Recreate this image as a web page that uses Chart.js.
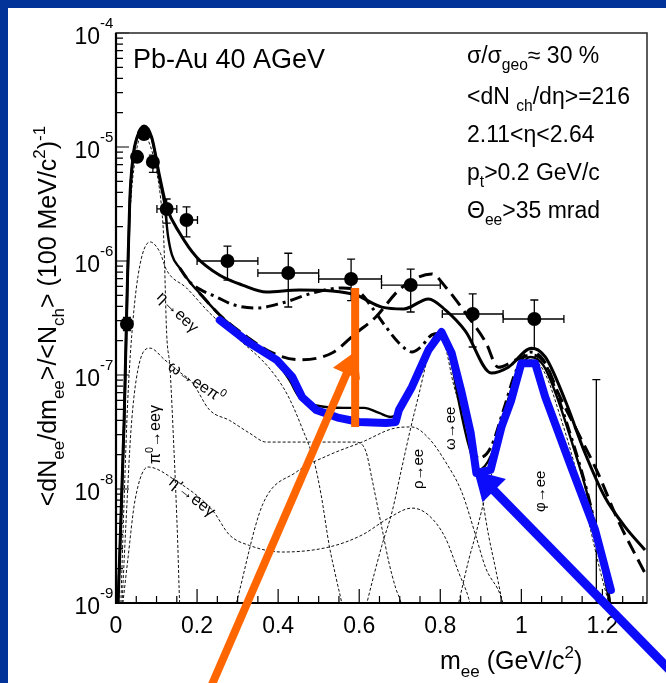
<!DOCTYPE html>
<html>
<head>
<meta charset="utf-8">
<script src="https://cdn.jsdelivr.net/npm/chart.js@4/dist/chart.umd.min.js"></script>
<style>
  html, body { margin: 0; padding: 0; background: #fff; }
</style>
</head>
<body>
<canvas id="spectre" width="666" height="683"></canvas>
<script>
// Points mesurés (masse en GeV/c2, rendement) et barres d'erreur
const massPts  = [0.027, 0.052, 0.069, 0.091, 0.125, 0.174, 0.275, 0.425, 0.58, 0.727, 0.88, 1.032, 1.185];
const yieldPts = [2.8e-7, 8.2e-6, 1.3e-5, 7.4e-6, 2.86e-6, 2.29e-6, 1.0e-6, 7.85e-7, 6.95e-7, 6.15e-7, 3.43e-7, 3.1e-7, 3e-10];
const xLow  = [0.027, 0.052, 0.069, 0.091, 0.101, 0.162, 0.20, 0.35, 0.50, 0.655, 0.805, 0.955, 1.185];
const xHigh = [0.027, 0.052, 0.069, 0.091, 0.150, 0.201, 0.35, 0.50, 0.655, 0.80, 0.955, 1.105, 1.185];
const yLow  = [2.45e-7, 7.5e-6, 1.2e-5, 6.0e-6, 2.15e-6, 1.63e-6, 6.8e-7, 3.95e-7, 4.5e-7, 3.57e-7, 1.76e-7, 1.69e-7, 1e-10];
const yHigh = [3.2e-7, 9.0e-6, 1.4e-5, 8.5e-6, 3.5e-6, 2.98e-6, 1.35e-6, 1.17e-6, 1.04e-6, 8.5e-7, 5.14e-7, 4.55e-7, 9.1e-8];

// Courbe pleine du haut
const upperX = [0.005,0.020,0.027,0.034,0.042,0.052,0.069,0.088,0.108,0.125,0.157,0.199,0.256,0.312,0.371,0.452,0.533,0.592,0.656,0.710,0.771,0.813,0.862,0.926,0.968,1.025,1.059,1.108,1.157,1.206,1.256,1.305];
const upperY = [1e-9,4.0e-8,4.5e-7,3.4e-6,8.2e-6,1.22e-5,1.53e-5,1.22e-5,5.45e-6,2.98e-6,1.76e-6,1.08e-6,7.5e-7,6.15e-7,5.35e-7,5.57e-7,5.46e-7,5.03e-7,3.94e-7,3.8e-7,4.65e-7,3.71e-7,2.43e-7,1.04e-7,1.17e-7,1.72e-7,1.44e-7,6.0e-8,2.07e-8,8.5e-9,4.65e-9,2.92e-9];

// Courbe pleine du bas (cocktail)
const lowerX = [0.005,0.020,0.027,0.034,0.042,0.052,0.069,0.088,0.108,0.120,0.128,0.138,0.157,0.182,0.206,0.256,0.329,0.391,0.428,0.452,0.501,0.563,0.612,0.649,0.678,0.703,0.735,0.767,0.796,0.821,0.845,0.870,0.894,0.926,0.956,0.988,1.022,1.054,1.086,1.123,1.160,1.189,1.209,1.219,1.226];
const lowerY = [1e-9,3.6e-8,4.2e-7,3.2e-6,8.0e-6,1.2e-5,1.5e-5,1.2e-5,5.1e-6,3.1e-6,1.69e-6,1.13e-6,8.7e-7,6.55e-7,5.23e-7,3.36e-7,2.03e-7,1.36e-7,9.0e-8,6.4e-8,5.35e-8,5.15e-8,5.15e-8,4.65e-8,4.29e-8,4.93e-8,8.2e-8,1.59e-7,2.33e-7,1.66e-7,6.0e-8,2.43e-8,1.47e-8,1.99e-8,4.46e-8,1.0e-7,1.44e-7,1.22e-7,6.7e-8,2.69e-8,9.8e-9,3.57e-9,1.44e-9,1e-9,7e-10];

// Tirets-points
const ddX = [0.157,0.182,0.206,0.248,0.292,0.346,0.410,0.494,0.558,0.600,0.631,0.666,0.698,0.730,0.752,0.779,0.801,0.826,0.850,0.875,0.894,0.924,0.956,0.988,1.022,1.054,1.086,1.123,1.160,1.189,1.214,1.222];
const ddY = [8.7e-7,6.55e-7,5.67e-7,4.83e-7,4.11e-7,3.87e-7,4.29e-7,5.35e-7,5.8e-7,5.35e-7,3.94e-7,2.64e-7,1.91e-7,1.59e-7,1.76e-7,2.25e-7,2.33e-7,1.59e-7,6.0e-8,2.69e-8,1.87e-8,2.29e-8,4.93e-8,1.11e-7,1.59e-7,1.36e-7,7.1e-8,2.86e-8,1.02e-8,3.7e-9,1.3e-9,7e-10];

// Tirets longs
const ldX = [0.206,0.256,0.324,0.386,0.452,0.533,0.592,0.641,0.698,0.747,0.779,0.813,0.862,0.912,0.943,0.988,1.025,1.059,1.091,1.140,1.189,1.238,1.305];
const ldY = [5.23e-7,3.36e-7,2.15e-7,1.56e-7,1.36e-7,1.56e-7,2.33e-7,3.23e-7,5.57e-7,7.24e-7,7.7e-7,5.92e-7,3.5e-7,1.94e-7,1.17e-7,1.36e-7,1.5e-7,1.27e-7,6.95e-8,3.1e-8,1.38e-8,5.35e-9,1.83e-9];

// Composantes du cocktail (pointillés fins)
const pi0X = [0.007,0.015,0.025,0.034,0.047,0.064,0.079,0.101,0.113,0.118,0.125,0.133,0.143,0.152,0.157,0.162];
const pi0Y = [1e-9,1.2e-8,2.5e-7,2.3e-6,7.7e-6,1.27e-5,1.15e-5,5.9e-6,2.8e-6,1.5e-6,2.3e-7,1.17e-7,2.2e-8,3.6e-9,1e-9,6e-10];
const etaX = [0.012,0.020,0.029,0.042,0.059,0.084,0.108,0.125,0.174,0.231,0.305,0.378,0.423,0.459,0.489,0.506,0.526,0.543,0.558,0.565];
const etaY = [1e-9,8e-9,6.0e-8,3.04e-7,9.2e-7,1.47e-6,1.2e-6,8.3e-7,5.8e-7,3.5e-7,2.03e-7,1.15e-7,6.7e-8,3.43e-8,1.73e-8,8.9e-9,3.2e-9,1.66e-9,9.6e-10,7e-10];
const omDalX = [0.015,0.025,0.037,0.054,0.084,0.120,0.157,0.187,0.231,0.280,0.329,0.371,0.592,0.617,0.631,0.656,0.673,0.690,0.703,0.711];
const omDalY = [1e-9,5.35e-9,3.3e-8,1.11e-7,1.72e-7,1.36e-7,1.06e-7,8.7e-8,4.93e-8,4.0e-8,3.1e-8,2.58e-8,2.58e-8,2.11e-8,1.25e-8,4.55e-9,2.29e-9,1.35e-9,1e-9,7e-10];
const etaPX = [0.017,0.029,0.047,0.079,0.145,0.238,0.280,0.329,0.410,0.526,0.607,0.673,0.730,0.771,0.813,0.845,0.870,0.877];
const etaPY = [1e-9,2.38e-9,8.0e-9,1.56e-8,1.2e-8,6.5e-9,3.95e-9,3.2e-9,2.8e-9,3.1e-9,3.95e-9,5.57e-9,6.8e-9,5.9e-9,3.7e-9,1.87e-9,1.1e-9,8.6e-10];
const rhoX = [0.297,0.361,0.445,0.526,0.607,0.690,0.730,0.771,0.813,0.853,0.887,0.912,0.951,0.958];
const rhoY = [1e-9,7.2e-9,1.41e-8,1.99e-8,2.58e-8,3.43e-8,3.5e-8,2.8e-8,1.73e-8,9.4e-9,3.95e-9,2.03e-9,1.1e-9,8.6e-10];
const omX = [0.612,0.619,0.656,0.681,0.705,0.727,0.747,0.771,0.791,0.811,0.833,0.852,0.870,0.887,0.902,0.919,0.936,0.951,0.958];
const omY = [7.8e-10,1e-9,3.2e-9,6.3e-9,1.53e-8,3.43e-8,6.7e-8,1.5e-7,2.2e-7,1.83e-7,8.2e-8,4.93e-8,3.3e-8,1.73e-8,8.9e-9,3.95e-9,2.03e-9,1.1e-9,8.3e-10];
const phiX = [0.840,0.848,0.870,0.887,0.912,0.936,0.961,0.988,1.017,1.042,1.066,1.091,1.128,1.165,1.194,1.214,1.224];
const phiY = [8.3e-10,1.1e-9,2.38e-9,3.95e-9,8.9e-9,1.8e-8,4.2e-8,9.0e-8,1.36e-7,1.27e-7,9.0e-8,4.93e-8,1.8e-8,5.35e-9,1.95e-9,1.06e-9,8.3e-10];

// Annotations (tracé bleu, flèches)
const blueX = [0.256,0.329,0.396,0.435,0.459,0.494,0.550,0.600,0.666,0.690,0.698,0.730,0.771,0.803,0.828,0.853,0.875,0.889,0.924,0.951,0.975,1.000,1.034,1.059,1.123,1.182,1.221];
const blueY = [3.03e-7,1.91e-7,1.36e-7,9.6e-8,6.4e-8,4.93e-8,4.2e-8,3.87e-8,3.79e-8,3.87e-8,4.93e-8,7.85e-8,1.66e-7,2.38e-7,1.56e-7,6.95e-8,3.1e-8,1.38e-8,1.47e-8,3.5e-8,6.0e-8,1.27e-7,1.27e-7,6.4e-8,1.56e-8,4.37e-9,1.3e-9];
const blueArrowX = [1.366, 0.9165];
const blueArrowY = [2.58e-10, 1.11e-8];
const orangeArrowX = [0.231, 0.577];
const orangeArrowY = [1.73e-10, 1.2e-7];
const orangeBarX = [0.590, 0.590];
const orangeBarY = [5.8e-7, 3.5e-8];

const xTickVals = [0, 0.2, 0.4, 0.6, 0.8, 1, 1.2];
const yDecades = [-9, -8, -7, -6, -5, -4];

const BLUE = 'rgb(12,12,250)';
const ORANGE = 'rgb(255,102,0)';
const FONT = '"Liberation Sans", Arial, Helvetica, sans-serif';

function pairs(xs, ys) { return xs.map((x, i) => ({x: x, y: ys[i]})); }

function courbe(nom, xs, ys, style) {
  return Object.assign({
    label: nom, data: pairs(xs, ys), showLine: true, pointRadius: 0,
    borderColor: '#000', backgroundColor: '#000', borderWidth: 1,
    cubicInterpolationMode: 'monotone', fill: false, order: 4
  }, style);
}

// texte avec indices / exposants
function richWidth(ctx, parts, size) {
  let w = 0;
  for (const p of parts) {
    ctx.font = ((p.sub || p.sup) ? size * 0.68 : size) + 'px ' + FONT;
    w += ctx.measureText(p.t).width;
  }
  return w;
}
function drawRich(ctx, parts, x, y, size) {
  let cx = x;
  for (const p of parts) {
    const s = (p.sub || p.sup) ? size * 0.68 : size;
    ctx.font = s + 'px ' + FONT;
    const dy = p.sub ? size * 0.3 : (p.sup ? -size * 0.45 : 0);
    ctx.fillText(p.t, cx, y + dy);
    cx += ctx.measureText(p.t).width;
  }
}
function drawRotated(ctx, parts, x, y, size, deg) {
  ctx.save();
  ctx.translate(x, y);
  ctx.rotate(deg * Math.PI / 180);
  drawRich(ctx, parts, 0, 0, size);
  ctx.restore();
}

const cadre = {
  id: 'cadre',
  beforeDraw(chart) {
    const ctx = chart.ctx;
    ctx.save();
    ctx.fillStyle = '#ffffff';
    ctx.fillRect(0, 0, chart.width, chart.height);
    ctx.fillStyle = '#023399';
    ctx.fillRect(0, 0, chart.width, 8);
    ctx.fillRect(0, 0, 8, chart.height);
    ctx.restore();
  },
  beforeDatasetsDraw(chart) {
    const {ctx, chartArea: a, scales: {x, y}} = chart;
    ctx.save();
    ctx.fillStyle = '#000';
    ctx.strokeStyle = '#000';
    ctx.textBaseline = 'alphabetic';

    // ticks x
    ctx.lineWidth = 1.2;
    ctx.beginPath();
    for (let i = 0; i * 0.05 <= 1.305; i++) {
      const px = x.getPixelForValue(i * 0.05);
      const len = (i % 4 === 0) ? 14 : 7;
      ctx.moveTo(px, a.bottom); ctx.lineTo(px, a.bottom - len);
    }
    // ticks y
    for (let k = -9; k <= -5; k++) {
      for (let m = 1; m <= 9; m++) {
        const py = y.getPixelForValue(m * Math.pow(10, k));
        const len = m === 1 ? 13 : 7;
        ctx.moveTo(a.left, py); ctx.lineTo(a.left + len, py);
      }
    }
    const pTop = y.getPixelForValue(1e-4);
    ctx.moveTo(a.left, pTop); ctx.lineTo(a.left + 13, pTop);
    ctx.stroke();

    // cadre
    ctx.lineWidth = 1.6;
    ctx.strokeStyle = '#333';
    ctx.strokeRect(a.left, a.top, a.right - a.left, a.bottom - a.top);
    ctx.strokeStyle = '#000';
    ctx.lineWidth = 2.2;
    ctx.beginPath();
    ctx.moveTo(a.left, a.top); ctx.lineTo(a.left, a.bottom); ctx.lineTo(a.right, a.bottom);
    ctx.stroke();

    // étiquettes x
    ctx.font = '23px ' + FONT;
    ctx.textAlign = 'center';
    xTickVals.forEach(v => ctx.fillText(String(v), x.getPixelForValue(v), a.bottom + 30));
    // étiquettes y
    yDecades.forEach(k => {
      const py = y.getPixelForValue(Math.pow(10, k));
      ctx.textAlign = 'right';
      ctx.font = '23px ' + FONT;
      ctx.fillText('10', 100, py + 11);
      ctx.textAlign = 'left';
      ctx.font = '15px ' + FONT;
      ctx.fillText(String(k), 100, py - 5);
    });
    ctx.textAlign = 'left';

    // titres des axes
    drawRich(ctx, [{t: 'm'}, {t: 'ee', sub: 1}, {t: ' (GeV/c'}, {t: '2', sup: 1}, {t: ')'}], 440, 669, 25);
    const yTitle = [{t: '<dN'}, {t: 'ee', sub: 1}, {t: '/dm'}, {t: 'ee', sub: 1}, {t: '>/<N'}, {t: 'ch', sub: 1},
                    {t: '> (100 MeV/c'}, {t: '2', sup: 1}, {t: ')'}, {t: '-1', sup: 1}];
    const wy = richWidth(ctx, yTitle, 25);
    drawRotated(ctx, yTitle, 56, 316 + wy / 2, 25, -90);

    // textes dans le cadre
    ctx.font = '27px ' + FONT;
    ctx.fillText('Pb-Au 40 AGeV', 133, 68);
    drawRich(ctx, [{t: 'σ/σ'}, {t: 'geo', sub: 1}, {t: '≈ 30 %'}], 467, 63, 23);
    drawRich(ctx, [{t: '<dN '}, {t: 'ch', sub: 1}, {t: '/dη>=216'}], 467, 104, 23);
    drawRich(ctx, [{t: '2.11<η<2.64'}], 467, 142, 23);
    drawRich(ctx, [{t: 'p'}, {t: 't', sub: 1}, {t: '>0.2 GeV/c'}], 467, 180, 23);
    drawRich(ctx, [{t: 'Θ'}, {t: 'ee', sub: 1}, {t: '>35 mrad'}], 467, 218, 23);

    // noms des composantes
    drawRotated(ctx, [{t: 'η→eeγ'}], 156, 298, 16, 44);
    drawRotated(ctx, [{t: 'ω→eeπ'}, {t: '0', sup: 1}], 167, 369, 16, 33);
    drawRotated(ctx, [{t: 'η\''}, {t: '→eeγ'}], 168, 484, 16, 38);
    drawRotated(ctx, [{t: 'π'}, {t: '0', sup: 1}, {t: '→eeγ'}], 160, 464, 16, -90);
    drawRotated(ctx, [{t: 'ρ→ee'}], 423, 489, 15, -90);
    drawRotated(ctx, [{t: 'ω→ee'}], 455, 450, 15, -90);
    drawRotated(ctx, [{t: 'φ→ee'}], 545, 512, 15, -90);
    ctx.restore();
  }
};

const barresErreur = {
  id: 'barresErreur',
  beforeDatasetDraw(chart, args) {
    if (chart.data.datasets[args.index].label !== 'mesure') return;
    const {ctx, chartArea: a, scales: {x, y}} = chart;
    ctx.save();
    ctx.beginPath();
    ctx.rect(a.left, a.top, a.right - a.left, a.bottom - a.top);
    ctx.clip();
    ctx.strokeStyle = '#000';
    ctx.lineWidth = 1.3;
    const cap = 4;
    massPts.forEach((m, i) => {
      const px = x.getPixelForValue(m), py = y.getPixelForValue(yieldPts[i]);
      const x0 = x.getPixelForValue(xLow[i]), x1 = x.getPixelForValue(xHigh[i]);
      const y0 = y.getPixelForValue(yLow[i]), y1 = y.getPixelForValue(yHigh[i]);
      ctx.beginPath();
      ctx.moveTo(px, y0); ctx.lineTo(px, y1);
      ctx.moveTo(px - cap, y1); ctx.lineTo(px + cap, y1);
      ctx.moveTo(px - cap, y0); ctx.lineTo(px + cap, y0);
      if (x1 > x0) {
        ctx.moveTo(x0, py); ctx.lineTo(x1, py);
        ctx.moveTo(x0, py - cap); ctx.lineTo(x0, py + cap);
        ctx.moveTo(x1, py - cap); ctx.lineTo(x1, py + cap);
      }
      ctx.stroke();
    });
    ctx.restore();
  }
};

const thin = {borderWidth: 1, borderDash: [3, 2], borderColor: '#111', order: 4};
const annot = {cubicInterpolationMode: 'default', tension: 0, clip: false};

new Chart(document.getElementById('spectre'), {
  type: 'scatter',
  data: {
    datasets: [
      // annotations
      courbe('barre orange', orangeBarX, orangeBarY, Object.assign({borderColor: ORANGE, borderWidth: 8, order: 0}, annot)),
      courbe('flèche orange', orangeArrowX, orangeArrowY, Object.assign({borderColor: ORANGE, borderWidth: 8, order: 0}, annot)),
      {label: 'pointe orange', data: [{x: orangeArrowX[1], y: orangeArrowY[1]}], pointStyle: 'triangle',
       pointRadius: 17, rotation: 23.6, backgroundColor: ORANGE, borderWidth: 0, clip: false, order: 0},
      courbe('tracé bleu', blueX, blueY, Object.assign({borderColor: BLUE, borderWidth: 8, borderJoinStyle: 'round', borderCapStyle: 'round', order: 1}, annot)),
      courbe('flèche bleue', blueArrowX, blueArrowY, Object.assign({borderColor: BLUE, borderWidth: 9, order: 1}, annot)),
      {label: 'pointe bleue', data: [{x: blueArrowX[1], y: blueArrowY[1]}], pointStyle: 'triangle',
       pointRadius: 19, rotation: -45, backgroundColor: BLUE, borderWidth: 0, clip: false, order: 1},
      // mesures
      {label: 'mesure', data: pairs(massPts, yieldPts), pointRadius: 7, pointStyle: 'circle',
       backgroundColor: '#000', borderWidth: 0, order: 2},
      // modèles
      courbe('haut', upperX, upperY, {borderWidth: 3, order: 3}),
      courbe('bas', lowerX, lowerY, {borderWidth: 2.4, order: 3}),
      courbe('tirets-points', ddX, ddY, {borderWidth: 3, borderDash: [12, 5, 3, 5], order: 3}),
      courbe('tirets', ldX, ldY, {borderWidth: 3, borderDash: [14, 7], order: 3}),
      // cocktail
      courbe('pi0', pi0X, pi0Y, thin),
      courbe('eta', etaX, etaY, thin),
      courbe('omega dalitz', omDalX, omDalY, thin),
      courbe('eta prime', etaPX, etaPY, thin),
      courbe('rho', rhoX, rhoY, thin),
      courbe('omega', omX, omY, thin),
      courbe('phi', phiX, phiY, thin)
    ]
  },
  options: {
    responsive: false,
    animation: false,
    events: [],
    layout: {padding: {left: 116, right: 17, top: 33, bottom: 80}},
    plugins: {legend: {display: false}, tooltip: {enabled: false}},
    scales: {
      x: {type: 'linear', min: 0, max: 1.31, display: false},
      y: {type: 'logarithmic', min: 1e-9, max: 1e-4, display: false}
    }
  },
  plugins: [cadre, barresErreur]
});
</script>
</body>
</html>
